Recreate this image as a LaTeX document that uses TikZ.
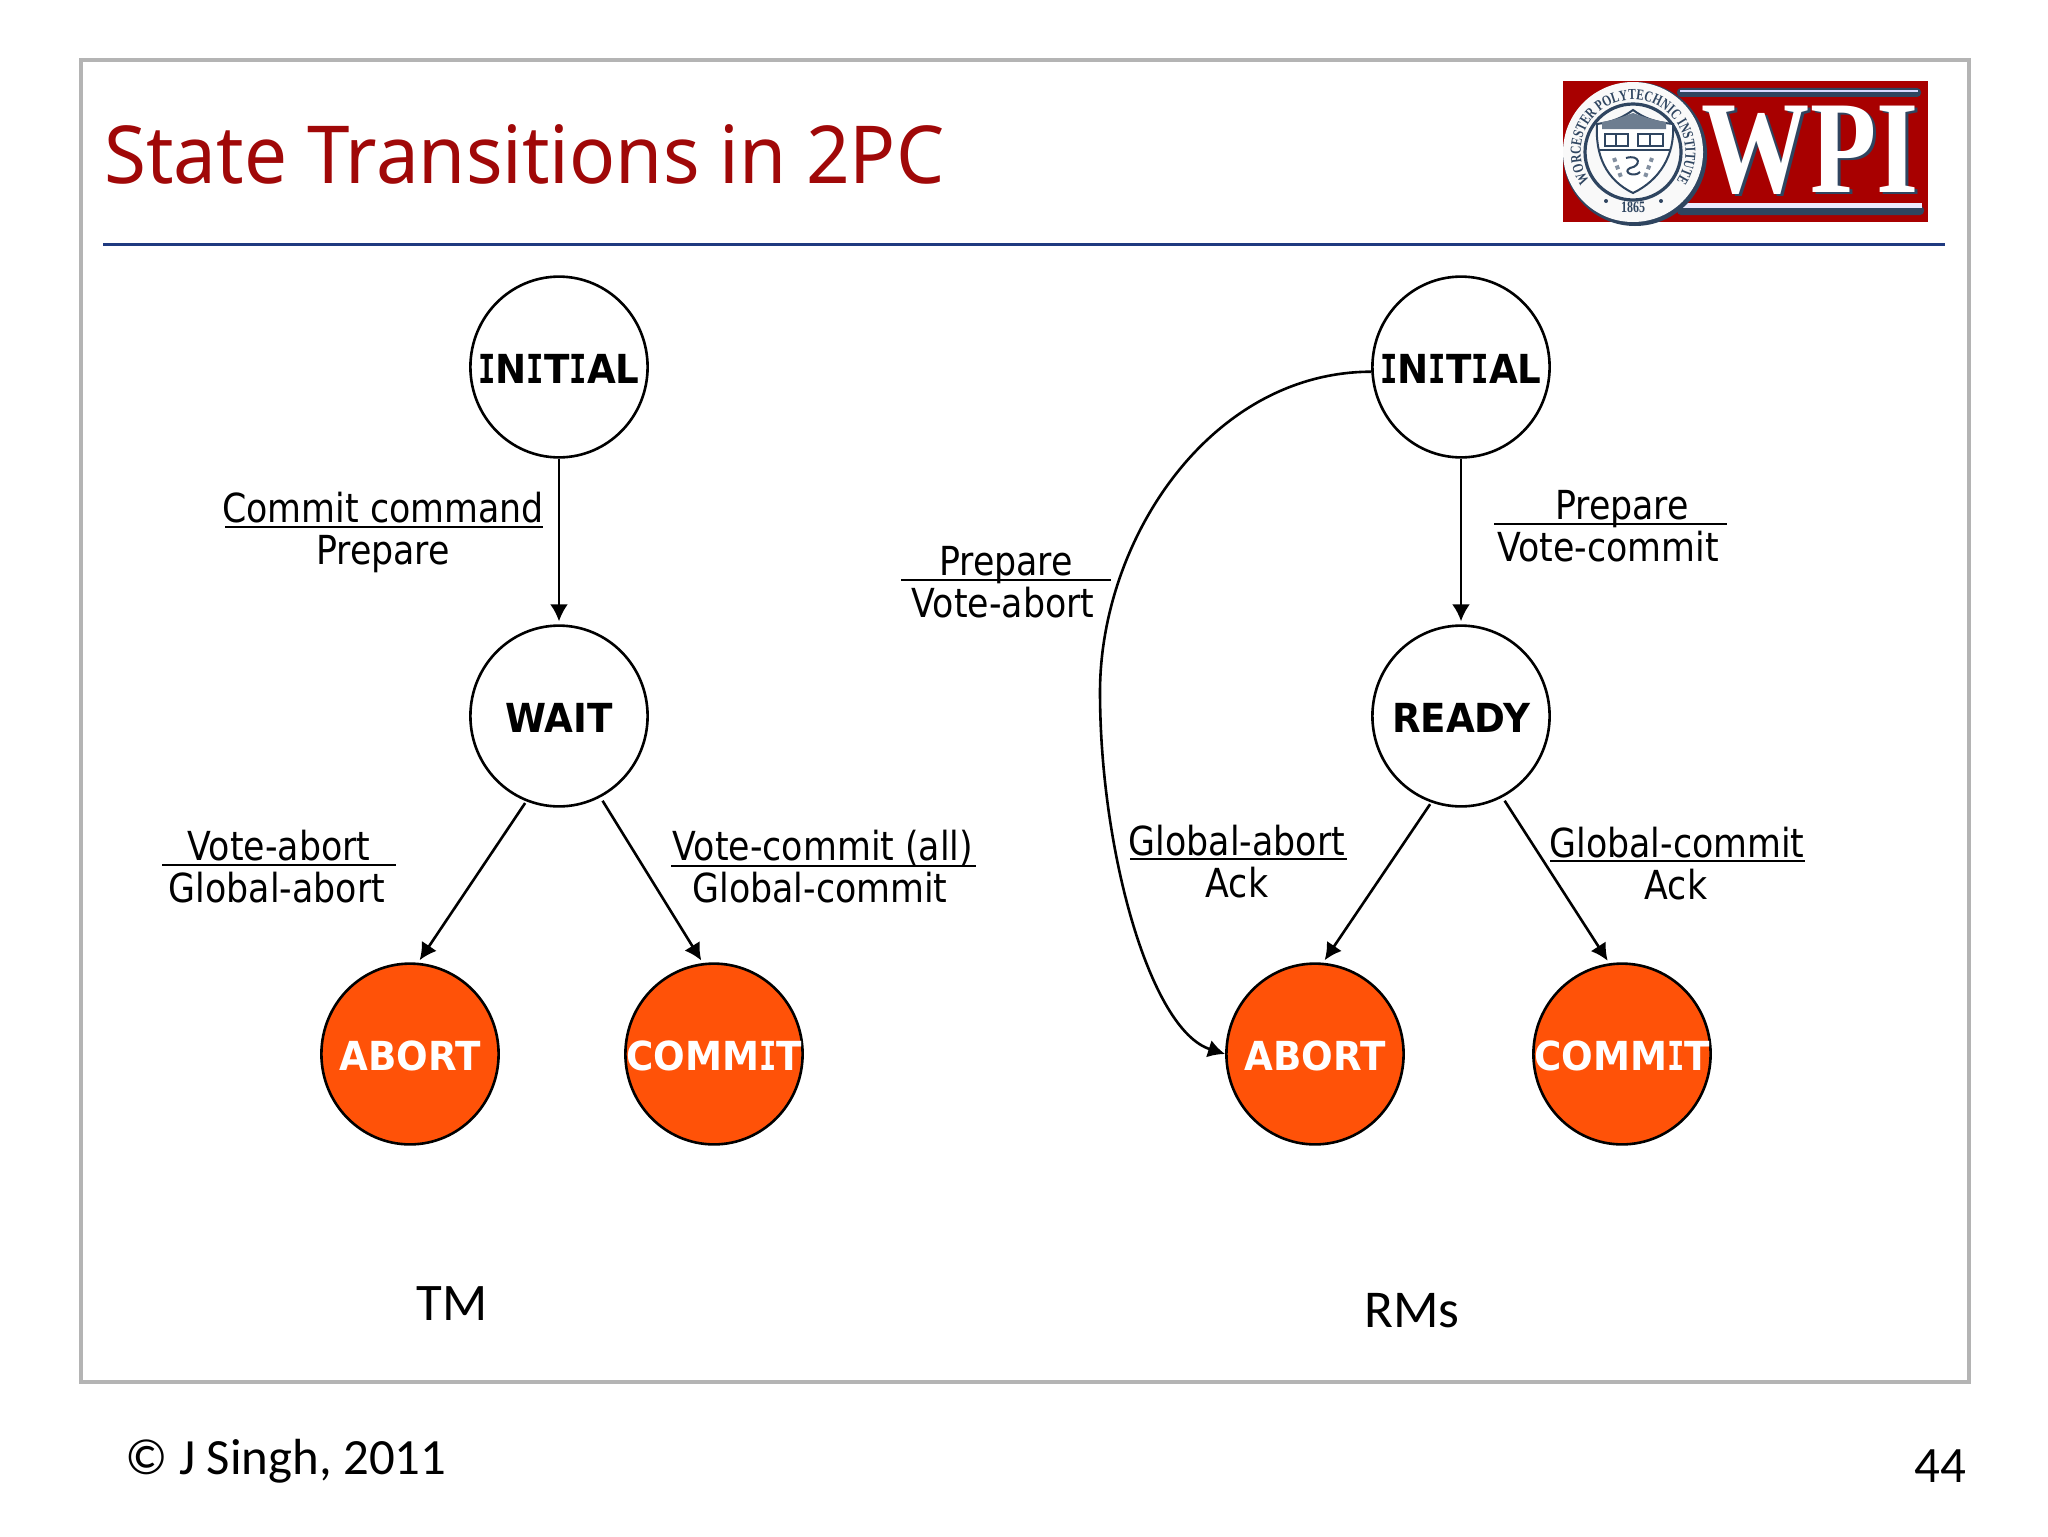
\documentclass[tikz,border=0pt]{standalone}
\usepackage{fontspec}
\usetikzlibrary{decorations.text,arrows.meta,shapes.geometric}
\setmainfont{Carlito}
\newfontfamily\labf[FakeStretch=0.87]{DejaVu Sans}
\newfontfamily\nodef[FakeStretch=0.93]{DejaVu Sans}
\newfontfamily\monoi[FakeStretch=0.72]{DejaVu Sans Mono}
\newfontfamily\titlef[FakeStretch=0.955]{Noto Sans}
\newfontfamily\logof{Liberation Serif}
\newfontfamily\sealf[FakeStretch=0.75]{Liberation Serif}
\newcommand{\stt}[1]{\smash{\makebox[0pt]{\raisebox{-8pt}{#1}}}}
\newcommand{\II}{{\monoi I}}
\definecolor{framegray}{HTML}{B4B4B4}
\definecolor{titlered}{HTML}{A00808}
\definecolor{ruleblue}{HTML}{1F3A80}
\definecolor{endorange}{HTML}{FF5208}
\definecolor{logored}{HTML}{A80000}
\definecolor{logodark}{HTML}{2F4560}
\tikzset{
  x=0.5pt,y=-0.5pt,
  state/.style={ellipse,draw=black,line width=1.3pt,minimum width=88.6pt,minimum height=90.4pt,inner sep=0pt,font=\nodef\bfseries\fontsize{20}{22}\selectfont},
  endstate/.style={state,fill=endorange,text=white},
  lab/.style={font=\labf\fontsize{20}{22}\selectfont,inner sep=0pt,text=black,anchor=base},
  labrule/.style={line width=1pt,black},
  arrow/.style={line width=1.3pt,-{Latex[length=8.5pt,width=9pt]},shorten >=1.5pt},
  big/.style={inner sep=0pt}
}
\begin{document}
\begin{tikzpicture}
\useasboundingbox (0,0) rectangle (2048,1536);
\fill[white] (0,0) rectangle (2048,1536);
\draw[framegray,line width=2.2pt] (81,60) rectangle (1969,1382);
\node[anchor=west,inner sep=0pt,text=titlered,font=\titlef\fontsize{40}{44}\selectfont] (title) at (104,154) {State Transitions in 2PC};
\draw[ruleblue,line width=1.5pt] (103,244) -- (1945,244);

% logo
\fill[logored] (1563,81) rectangle (1928,222);
\fill[logodark,rounded corners=2pt] (1677,88) rectangle (1921,97);
\fill[white!85!blue] (1680,90.5) rectangle (1918,92.5);
\fill[logodark,rounded corners=2pt] (1677,206) rectangle (1924,215);
\fill[white!92!blue] (1677,203) rectangle (1922,208);
\node[text=logodark,inner sep=0pt,xscale=.82,font=\logof\bfseries\fontsize{66}{66}\selectfont] at (1813,152) {WPI};
\node[text=white,inner sep=0pt,xscale=.82,font=\logof\bfseries\fontsize{66}{66}\selectfont] (wpi) at (1810,150) {WPI};
\fill[logodark] (1635,154) circle[radius=36pt];
\fill[white!95!gray] (1633,152) circle[radius=35pt];
\draw[logodark,line width=1.6pt] (1633,152) circle[radius=24pt];
\begin{scope}[shift={(1633,152)},y=0.5pt]
  \path[decorate,decoration={text along path,text align=center,
    text={|\sealf\bfseries\fontsize{7.6}{8}\selectfont\color{logodark}|WORCESTER POLYTECHNIC INSTITUTE}}]
    (-146:26.2pt) arc[start angle=214,end angle=-34,radius=26.2pt];
\end{scope}
\node[text=logodark,inner sep=0pt,font=\sealf\bfseries\fontsize{8}{8}\selectfont] (est) at (1633,207) {1865};
\fill[logodark] (1606,201) circle[radius=1pt] (1661,201) circle[radius=1pt];
\fill[white,draw=logodark,line width=1pt] (1597,124) .. controls (1612,122) and (1622,118) .. (1633,110) .. controls (1644,118) and (1654,122) .. (1673,124) .. controls (1675,155) and (1660,180) .. (1633,193) .. controls (1606,180) and (1595,155) .. (1597,124) -- cycle;
\fill[logodark!70] (1602,122) .. controls (1615,120) and (1624,116) .. (1633,113) .. controls (1642,116) and (1652,120) .. (1666,122) -- (1666,129) -- (1602,129) -- cycle;
\draw[logodark,line width=.6pt] (1605,134) rectangle (1628,146) (1616,134) -- (1616,146) (1638,134) rectangle (1663,146) (1650,134) -- (1650,146) (1598,150) -- (1670,150);
\draw[logodark,line width=1pt] (1626,158) .. controls (1640,154) and (1642,166) .. (1630,168) .. controls (1622,172) and (1634,178) .. (1640,172);
\draw[logodark!60,line width=2pt,dotted] (1614,158) -- (1622,180) (1652,158) -- (1644,180);

% TM
\node[state] (tminit) at (559,367) {\stt{\II N\II T\II AL}};
\node[state] (tmwait) at (559,716) {\stt{WAIT}};
\node[endstate] (tmabort) at (410,1054) {\stt{ABORT}};
\node[endstate] (tmcommit) at (714,1054) {\stt{COMM\II T}};
\draw[arrow] (tminit) -- (tmwait);
\draw[arrow,shorten <=1pt] (tmwait.249) -- (tmabort.85);
\draw[arrow,shorten <=2pt] (tmwait.297) -- (tmcommit.97);

% RMs
\node[state] (rminit) at (1461,367) {\stt{\II N\II T\II AL}};
\node[state] (rmready) at (1461,716) {\stt{READY}};
\node[endstate] (rmabort) at (1315,1054) {\stt{ABORT}};
\node[endstate] (rmcommit) at (1622,1054) {\stt{COMM\II T}};
\draw[arrow] (rminit) -- (rmready);
\draw[arrow,shorten <=1pt] (rmready.251) -- (rmabort.85.5);
\draw[arrow,shorten <=2pt] (rmready.297) -- (rmcommit.98);
\draw[arrow,shorten >=0pt] (rminit.183) .. controls (1210,372) and (1100,540) .. (1100,692) .. controls (1100,850) and (1150,1030) .. (rmabort.west);

% labels
\node[lab] (l1a) at (383,522) {Commit command};
\node[lab] (l1b) at (383,564) {Prepare};
\draw[labrule] (225,527) -- (543,527);
\node[lab] (l2a) at (279,860) {Vote-abort};
\node[lab] (l2b) at (277,902) {Global-abort};
\draw[labrule] (162,865) -- (396,865);
\node[lab] (l3a) at (823,860) {Vote-commit (all)};
\node[lab] (l3b) at (820,902) {Global-commit};
\draw[labrule] (671,866) -- (976,866);
\node[lab] (l4a) at (1622,519) {Prepare};
\node[lab] (l4b) at (1608,561) {Vote-commit};
\draw[labrule] (1494,524) -- (1727,524);
\node[lab] (l5a) at (1006,575) {Prepare};
\node[lab] (l5b) at (1003,617) {Vote-abort};
\draw[labrule] (901,580) -- (1111,580);
\node[lab] (l6a) at (1237,855) {Global-abort};
\node[lab] (l6b) at (1237,897) {Ack};
\draw[labrule] (1130,859) -- (1347,859);
\node[lab] (l7a) at (1677,857) {Global-commit};
\node[lab] (l7b) at (1676,899) {Ack};
\draw[labrule] (1550,861) -- (1805,861);

\node[big,font=\fontsize{26.4}{30}\selectfont] (tm) at (452,1304) {TM};
\node[big,font=\fontsize{26.6}{30}\selectfont] (rms) at (1412,1311) {RMs};
\node[inner sep=0pt,anchor=west,font=\fontsize{25.4}{28}\selectfont] (copy) at (125,1461) {© J Singh, 2011};
\node[inner sep=0pt,font=\fontsize{25.5}{28}\selectfont] (num) at (1940,1466) {44};
\end{tikzpicture}
\end{document}
